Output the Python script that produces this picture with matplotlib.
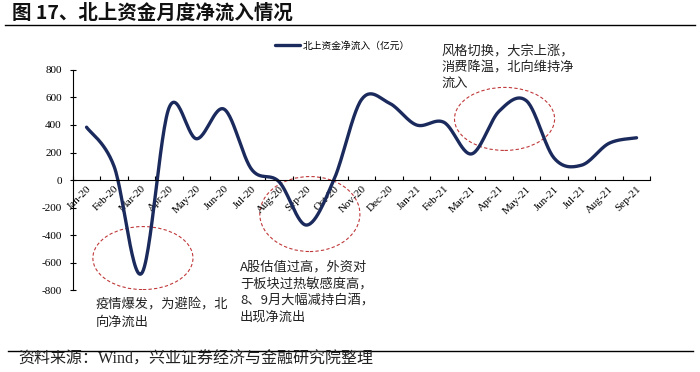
import matplotlib
matplotlib.use('Agg')
import matplotlib.pyplot as plt
import numpy as np
from matplotlib.patches import Ellipse
from matplotlib.lines import Line2D

plt.rcParams['font.family'] = ['Noto Sans CJK SC', 'DejaVu Sans']

# monthly northbound net inflow (100 million CNY)
months = ['Jan-20', 'Feb-20', 'Mar-20', 'Apr-20', 'May-20', 'Jun-20', 'Jul-20',
          'Aug-20', 'Sep-20', 'Oct-20', 'Nov-20', 'Dec-20', 'Jan-21', 'Feb-21',
          'Mar-21', 'Apr-21', 'May-21', 'Jun-21', 'Jul-21', 'Aug-21', 'Sep-21']
inflow = [384, 100, -679, 525, 300, 515, 78,
          -12, -327, 5, 585, 560, 400, 419,
          190, 500, 575, 160, 108, 267, 307]
yticks = [-800, -600, -400, -200, 0, 200, 400, 600, 800]

navy = '#1B2A5C'
red = '#C0393B'
txt = '#222222'
serif = ['Liberation Serif', 'Noto Sans CJK SC']


def smooth(x, y, sx, sy, n=30):
    # excel style smoothed line (bezier, 1/6 tension), computed in screen-like units
    px = np.asarray(x, float) * sx
    py = np.asarray(y, float) * sy
    xs, ys = [], []
    m = len(px)
    for i in range(m - 1):
        p0 = (px[max(i - 1, 0)], py[max(i - 1, 0)])
        p1 = (px[i], py[i])
        p2 = (px[i + 1], py[i + 1])
        p3 = (px[min(i + 2, m - 1)], py[min(i + 2, m - 1)])
        c1 = (p1[0] + (p2[0] - p0[0]) / 6, p1[1] + (p2[1] - p0[1]) / 6)
        c2 = (p2[0] - (p3[0] - p1[0]) / 6, p2[1] - (p3[1] - p1[1]) / 6)
        t = np.linspace(0, 1, n)
        bx = (1 - t) ** 3 * p1[0] + 3 * (1 - t) ** 2 * t * c1[0] + 3 * (1 - t) * t ** 2 * c2[0] + t ** 3 * p2[0]
        by = (1 - t) ** 3 * p1[1] + 3 * (1 - t) ** 2 * t * c1[1] + 3 * (1 - t) * t ** 2 * c2[1] + t ** 3 * p2[1]
        xs.append(bx)
        ys.append(by)
    return np.concatenate(xs) / sx, np.concatenate(ys) / sy


fig = plt.figure(figsize=(7, 3.72), dpi=100)
ax = fig.add_axes([0.104, 0.22, 0.825, 0.592])

x = np.arange(len(months))
sx_, sy_ = smooth(x, inflow, 27.5, 0.1375)
ax.plot(sx_, sy_, color=navy, lw=2.4, solid_capstyle='round', label='北上资金净流入（亿元）')

ax.set_xlim(-0.5, len(months) - 0.5)
ax.set_ylim(-800, 800)
ax.set_yticks(yticks)
ax.set_yticklabels([str(v) for v in yticks], family=serif, fontsize=8)

for s in ['top', 'right']:
    ax.spines[s].set_visible(False)
ax.spines['bottom'].set_position(('data', 0))
ax.spines['left'].set_linewidth(0.8)
ax.spines['bottom'].set_linewidth(0.8)
ax.tick_params(axis='y', direction='inout', length=4, width=0.8, pad=6)

ax.set_xticks(x)
ax.set_xticklabels(months, rotation=45, ha='right', va='top', rotation_mode='anchor',
                   family=serif, fontsize=8)
ax.tick_params(axis='x', which='major', length=0, pad=3)
ax.set_xticks(np.arange(-0.5, len(months)), minor=True)
ax.tick_params(axis='x', which='minor', direction='in', length=3, width=0.8)

# dashed ellipses
for cx, cy, w, h in [(2.05, -567, 3.64, 458), (8.12, -247, 3.64, 545), (15.2, 444, 3.64, 458)]:
    ax.add_patch(Ellipse((cx, cy), w, h, fill=False, ec=red, ls=(0, (3, 2)), lw=0.8))

ax.legend(loc='center left', bbox_to_anchor=(0.393, 0.877), bbox_transform=fig.transFigure,
          frameon=False, fontsize=7, handlelength=2.6, handletextpad=0.2,
          borderpad=0, borderaxespad=0)

# annotations
fig.text(0.137, 0.198, '疫情爆发，为避险，北\n向净流出', fontsize=9.5, color=txt,
         va='top', ha='left', linespacing=1.45)
fig.text(0.343, 0.300, 'A股估值过高，外资对\n于板块过热敏感度高，\n8、9月大幅减持白酒，\n出现净流出',
         fontsize=9.5, color=txt, va='top', ha='left', linespacing=1.38)
fig.text(0.630, 0.880, '风格切换，大宗上涨，\n消费降温，北向维持净\n流入', fontsize=9.5, color=txt,
         va='top', ha='left', linespacing=1.33)

# header / footer
fig.text(0.017, 0.965, '图 17、北上资金月度净流入情况', fontsize=14, fontweight='bold',
         va='center', ha='left', color='#111111')
fig.add_artist(Line2D([0.007, 0.993], [0.933, 0.933], color='black', lw=1.0))
fig.add_artist(Line2D([0.011, 0.99], [0.056, 0.056], color='black', lw=1.0))
fig.text(0.026, 0.032, '资料来源：Wind，兴业证券经济与金融研究院整理', family=serif,
         fontsize=11.5, va='center', ha='left', color=txt)

fig.savefig('out.png', dpi=100)
